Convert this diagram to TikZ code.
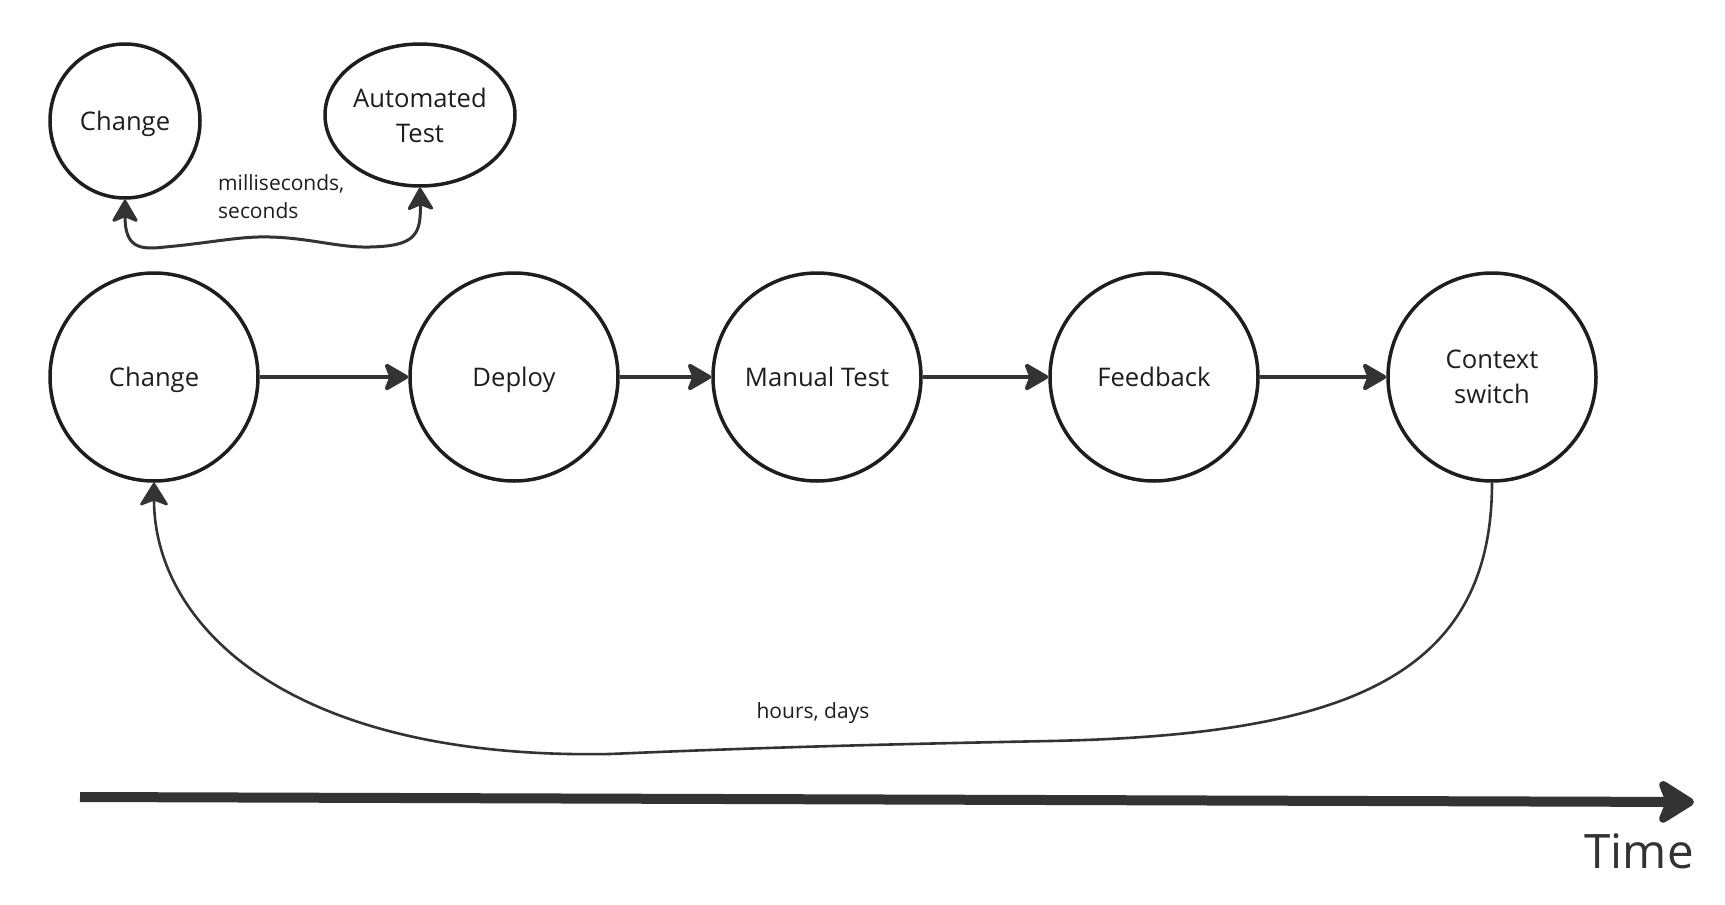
\documentclass[tikz,border=0pt]{standalone}
\usepackage{fontspec}
\setmainfont{Open Sans}
\usetikzlibrary{arrows.meta,shapes.geometric}
\definecolor{ink}{HTML}{1E1E1E}
\definecolor{arr}{HTML}{333333}
\begin{document}
\begin{tikzpicture}[x=1pt,y=-1pt,
  circ/.style={draw=ink,line width=3.5pt,fill=white,ellipse,inner sep=0pt,align=center,
    font=\fontsize{25.6}{35}\selectfont,text=ink},
  oneline/.style={text height=22pt,text depth=3.6pt},
  big/.style={circ,minimum width=208pt,minimum height=208pt},
  flow/.style={draw=arr,line width=4pt,-{Stealth[length=27pt,width=31pt,inset=6pt,round]}},
  loopa/.style={draw=arr,line width=3pt,{Stealth[length=25pt,width=29pt,inset=6pt,round]}-{Stealth[length=25pt,width=29pt,inset=6pt,round]}},
  loopb/.style={draw=arr,line width=2.6pt,-{Stealth[length=25pt,width=31pt,inset=6pt,round]}},
  lbl/.style={font=\fontsize{21}{28}\selectfont,text=ink,align=left,inner sep=0pt}]
\useasboundingbox (0,0) rectangle (1725,905);
\fill[white] (0,0) rectangle (1725,905);
% top loop
\node[circ,oneline,minimum width=150pt,minimum height=154pt] (sc) at (125,121) {Change};
\node[circ,minimum width=190pt,minimum height=142pt] (at) at (420,115) {Automated\\Test};
\node[lbl,anchor=west] (ms) at (218,197) {milliseconds,\\seconds};
\draw[loopa] (sc.south) .. controls (125,248) and (140,250) .. (165,247)
  .. controls (210,243) and (240,236) .. (270,237)
  .. controls (310,238) and (340,248) .. (370,247)
  .. controls (415,246) and (421,235) .. (at.south);
% main row
\node[big,oneline] (chg) at (154,377) {Change};
\node[big,oneline] (dep) at (514,377) {Deploy};
\node[big,oneline] (man) at (817,377) {Manual Test};
\node[big,oneline] (fb) at (1154,377) {Feedback};
\node[big] (ctx) at (1492,377) {Context\\switch};
\draw[flow] (chg.east) -- (dep.west);
\draw[flow] (dep.east) -- (man.west);
\draw[flow] (man.east) -- (fb.west);
\draw[flow] (fb.east) -- (ctx.west);
% long loop
\draw[loopb] (ctx.south) .. controls (1492,680) and (1340,735) .. (1050,741)
  .. controls (850,745) and (750,748) .. (610,754)
  .. controls (280,760) and (154,620) .. (chg.south);
\node[lbl] (hd) at (813,713) {hours, days};
% time axis
\coordinate (t0) at (80,797);
\coordinate (t1) at (1694,802);
\draw[draw=arr,line width=10pt,-{Stealth[length=42pt,width=52pt,inset=10pt,round]}] (t0) -- (t1);
\node[font=\fontsize{47.5}{50}\selectfont,text=arr,anchor=base east,inner sep=0pt] (tm) at (1694,868) {Time};
\end{tikzpicture}
\end{document}
